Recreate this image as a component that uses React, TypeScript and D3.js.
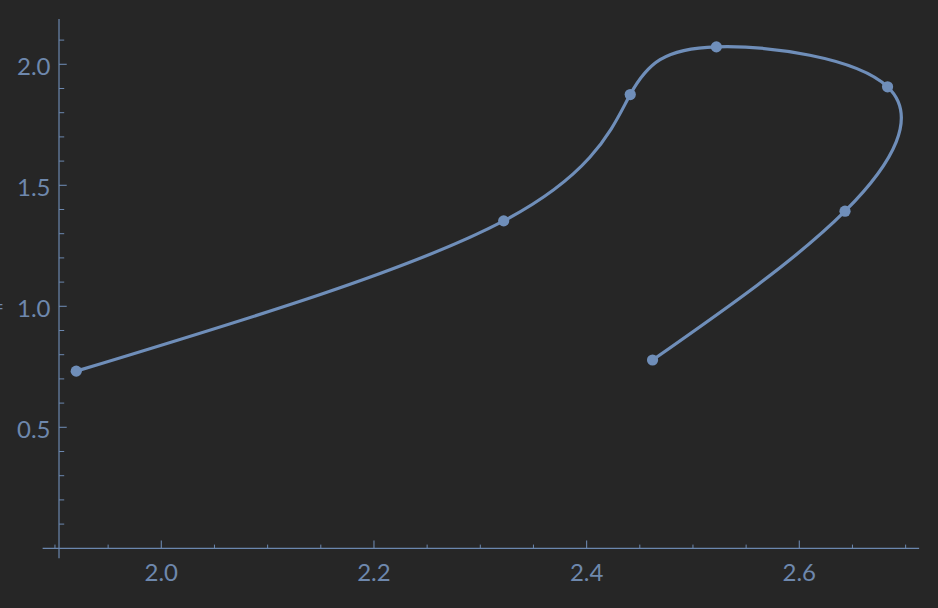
import React from "react";
import * as d3 from "d3";

const xValues = [1.92, 2.322, 2.441, 2.522, 2.683, 2.643, 2.462];
const yValues = [0.732, 1.353, 1.875, 2.072, 1.907, 1.393, 0.778];
const xMajorTicks = [2.0, 2.2, 2.4, 2.6];
const xTickLabels = ["2.0", "2.2", "2.4", "2.6"];
const xMinorTicks = [1.9, 1.95, 2.05, 2.1, 2.15, 2.25, 2.3, 2.35, 2.45, 2.5, 2.55, 2.65, 2.7];
const yMajorTicks = [0.5, 1.0, 1.5, 2.0];
const yTickLabels = ["0.5", "1.0", "1.5", "2.0"];
const yMinorTicks = [0.1, 0.2, 0.3, 0.4, 0.6, 0.7, 0.8, 0.9, 1.1, 1.2, 1.3, 1.4, 1.6, 1.7, 1.8, 1.9, 2.1];

const W = 938;
const H = 608;
const BG = "#262626";
const LINE = "#6f8eb9";
const AXIS = "#6b87ae";
const TEXT = "#6e88ad";
const FONT = "Lato, 'Open Sans', sans-serif";

export default function App() {
  const x = d3.scaleLinear().domain([2.0, 2.6]).range([161.3, 799.3]);
  const y = d3.scaleLinear().domain([0, 2.0]).range([548.3, 64.3]);
  const xAxisY = y(0);
  const yAxisX = x(1.9038);
  const pts: [number, number][] = xValues.map((v, i) => [x(v), y(yValues[i])]);
  const line = d3.line<[number, number]>().curve(d3.curveNatural);
  const path = line(pts) || "";

  return (
    <div style={{ position: "absolute", left: 0, top: 0, width: W, height: H }}>
      <svg width={W} height={H} style={{ display: "block", background: BG }}>
        <rect x={0} y={0} width={W} height={H} fill={BG} />
        {/* x axis */}
        <line x1={x(1.8884)} x2={x(2.7127)} y1={xAxisY} y2={xAxisY} stroke={AXIS} strokeWidth={1.2} />
        {xMajorTicks.map((t, i) => (
          <g key={"xm" + i}>
            <line x1={x(t)} x2={x(t)} y1={xAxisY} y2={xAxisY - 7.7} stroke={AXIS} strokeWidth={1.1} />
            <text x={x(t)} y={581} textAnchor="middle" fill={TEXT} fontFamily={FONT} fontSize={24}>
              {xTickLabels[i]}
            </text>
          </g>
        ))}
        {xMinorTicks.map((t, i) => (
          <line key={"xn" + i} x1={x(t)} x2={x(t)} y1={xAxisY} y2={xAxisY - 3.7} stroke={AXIS} strokeWidth={1} />
        ))}
        {/* y axis */}
        <line x1={yAxisX} x2={yAxisX} y1={y(-0.041)} y2={y(2.187)} stroke={AXIS} strokeWidth={1.2} />
        {yMajorTicks.map((t, i) => (
          <g key={"ym" + i}>
            <line x1={yAxisX} x2={yAxisX + 7.7} y1={y(t)} y2={y(t)} stroke={AXIS} strokeWidth={1.1} />
            <text x={50.5} y={y(t) + 10.5} textAnchor="end" fill={TEXT} fontFamily={FONT} fontSize={24}>
              {yTickLabels[i]}
            </text>
          </g>
        ))}
        {yMinorTicks.map((t, i) => (
          <line key={"yn" + i} x1={yAxisX} x2={yAxisX + 5.2} y1={y(t)} y2={y(t)} stroke={AXIS} strokeWidth={1} />
        ))}
        <text x={4} y={y(1.0) + 8} textAnchor="end" fill={TEXT} fontFamily={FONT} fontSize={22}>
          =
        </text>
        {/* curve */}
        <path d={path} fill="none" stroke={LINE} strokeWidth={3.2} strokeLinejoin="round" strokeLinecap="round" />
        {pts.map((p, i) => (
          <circle key={"p" + i} cx={p[0]} cy={p[1]} r={5.6} fill={LINE} />
        ))}
      </svg>
    </div>
  );
}
